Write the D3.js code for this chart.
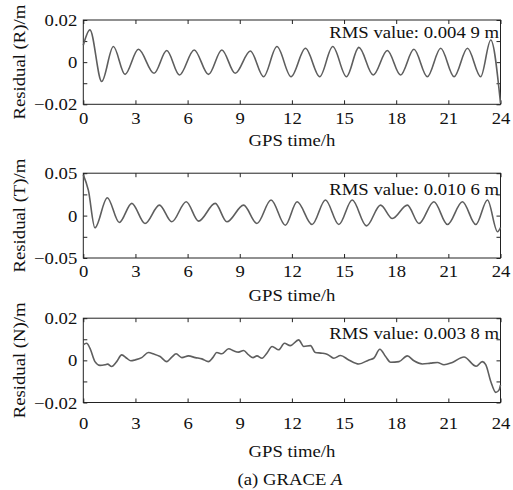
<!DOCTYPE html>
<html>
<head>
<meta charset="utf-8">
<script src="https://cdn.jsdelivr.net/npm/d3@7"></script>
<style>
  body { margin: 0; background: #fff; }
  text { font-family: "Liberation Serif", "Times New Roman", serif; font-size: 17px; fill: #111; }
</style>
</head>
<body>
<svg id="chart" width="513" height="490"></svg>
<script>
// GPS hours on the x axis
var hourTicks = [0, 3, 6, 9, 12, 15, 18, 21, 24];

// radial residual, read at peaks / troughs
var rTime = [0, 0.38, 1.06, 1.73, 2.40, 3.17, 4.07, 4.80, 5.53, 6.38, 7.20, 7.97, 8.74, 9.61, 10.37, 11.14,
             11.95, 12.78, 13.60, 14.35, 15.14, 15.85, 16.68, 17.49, 18.25, 19.02, 19.79, 20.56, 21.33, 22.10, 22.86, 23.44, 24.0];
var rValue = [0.008, 0.0153, -0.0092, 0.0074, -0.0058, 0.0061, -0.0053, 0.0055, -0.0061, 0.0058, -0.0058, 0.0058, -0.0053, 0.0053, -0.0069, 0.0074,
              -0.0069, 0.0066, -0.0069, 0.0074, -0.0069, 0.0070, -0.0061, 0.0055, -0.0061, 0.0061, -0.0069, 0.0066, -0.0069, 0.0066, -0.0069, 0.0105, -0.0195];

// along-track residual
var tTime = [0, 0.29, 0.67, 1.38, 2.07, 2.79, 3.55, 4.38, 5.09, 5.92, 6.63, 7.59, 8.26, 9.22, 9.99, 10.80, 11.62,
             12.30, 13.16, 13.93, 14.70, 15.47, 16.29, 17.10, 17.78, 18.64, 19.31, 20.17, 20.95, 21.81, 22.58, 23.25, 23.83, 24.0];
var tValue = [0.048, 0.030, -0.0144, 0.0211, -0.0081, 0.0144, -0.0093, 0.0124, -0.0073, 0.0164, -0.0065, 0.0144, -0.0073, 0.0124, -0.0093, 0.0184, -0.0113,
              0.0164, -0.0105, 0.0184, -0.0105, 0.0184, -0.0121, 0.0124, -0.0034, 0.0124, -0.0093, 0.0164, -0.0105, 0.0164, -0.0105, 0.0184, -0.019, -0.014];

// normal residual
var nTime = [0, 0.19, 0.38, 0.67, 0.96, 1.25, 1.40, 1.63, 1.92, 2.21, 2.50, 2.73, 2.98, 3.36, 3.75, 4.03, 4.42, 4.80,
             5.09, 5.34, 5.67, 6.05, 6.44, 6.82, 7.20, 7.45, 7.68, 7.97, 8.36, 8.65, 8.93, 9.22, 9.51, 9.76, 9.99, 10.28,
             10.57, 10.86, 11.24, 11.57, 11.91, 12.39, 12.68, 13.07, 13.35, 13.74, 14.05, 14.41, 14.80, 15.27, 15.85,
             16.43, 16.71, 17.06, 17.39, 17.68, 18.16, 18.64, 19.02, 19.50, 19.98, 20.37, 20.75, 21.23, 21.90, 22.60,
             22.95, 23.15, 23.44, 23.73, 23.92, 24.0];
var nValue = [0.0074, 0.0081, 0.0058, -0.0006, -0.0024, -0.0021, -0.0018, -0.0029, -0.0006, 0.0026, 0.0010, -0.0002, 0.0002, 0.0013, 0.0037, 0.0031, 0.0018, -0.0006,
              0.0015, 0.0031, 0.0013, 0.0021, 0.0013, 0.0007, -0.0006, 0.0013, 0.0037, 0.0031, 0.0055, 0.0045, 0.0039, 0.0047, 0.0026, 0.0013, 0.0021, 0.0010,
              0.0035, 0.0066, 0.0050, 0.0081, 0.0070, 0.0097, 0.0066, 0.0070, 0.0037, 0.0034, 0.0028, 0.0010, 0.0023, 0.0002, -0.0017,
              0.0002, 0.0010, 0.0053, 0.0018, -0.0009, -0.0006, 0.0021, -0.0002, -0.0017, -0.0013, -0.0010, -0.0021, -0.0010, 0.0016, -0.0028,
              -0.0006, -0.0020, -0.0100, -0.0152, -0.0140, -0.0116];

var yLimits = [0.02, 0.05, 0.02];
var yLabels = ['Residual (R)/m', 'Residual (T)/m', 'Residual (N)/m'];
var rmsLabels = ['RMS value: 0.004 9 m', 'RMS value: 0.010 6 m', 'RMS value: 0.003 8 m'];

var svg = d3.select('#chart');
var STRETCH = 1.1;   // the serif in the figure runs a bit wider than Liberation
var left = 83.3, right = 500.5;

var panels = [
    { top: 20,    bottom: 104.3, tickPad: 7.5,  xLabelY: 145.5, rmsY: 38.3 },
    { top: 173.2, bottom: 258,   tickPad: 7,    xLabelY: 301,   rmsY: 194.7 },
    { top: 318.2, bottom: 402.5, tickPad: 14,   xLabelY: 457,   rmsY: 339 }
];

var x = d3.scaleLinear().domain([0, 24]).range([left, right]);

function label(sel, px, py, txt, anchor, rotate) {
    return sel.append('text')
        .attr('text-anchor', anchor)
        .attr('transform', 'translate(' + px + ',' + py + ')' + (rotate ? ' rotate(-90)' : '') + ' scale(' + STRETCH + ',1)')
        .text(txt);
}

function drawPanel(idx, time, value) {
    var p = panels[idx];
    var lim = yLimits[idx];
    var y = d3.scaleLinear().domain([-lim, lim]).range([p.bottom, p.top]);
    var yTicks = [-lim, -lim / 2, 0, lim / 2, lim];

    function fmt(d) {
        if (d === 0) return '0';
        if (Math.abs(d) !== lim) return '';
        return (d < 0 ? '\u2212' : '') + lim.toFixed(2);
    }

    var g = svg.append('g').style('color', '#222');

    var bottomAxis = g.append('g').attr('transform', 'translate(0,' + p.bottom + ')')
        .call(d3.axisBottom(x).tickValues(hourTicks).tickSizeInner(-4).tickSizeOuter(0).tickPadding(p.tickPad));
    g.append('g').attr('transform', 'translate(0,' + p.top + ')')
        .call(d3.axisTop(x).tickValues(hourTicks).tickSizeInner(-4).tickSizeOuter(0).tickFormat(''));
    var leftAxis = g.append('g').attr('transform', 'translate(' + left + ',0)')
        .call(d3.axisLeft(y).tickValues(yTicks).tickSizeInner(-4).tickSizeOuter(0).tickPadding(6 / STRETCH).tickFormat(fmt));
    g.append('g').attr('transform', 'translate(' + right + ',0)')
        .call(d3.axisRight(y).tickValues(yTicks).tickSizeInner(-4).tickSizeOuter(0).tickFormat(''));

    g.selectAll('.domain').remove();
    g.selectAll('.tick text').attr('font-family', null).attr('font-size', null)
        .attr('transform', 'scale(' + STRETCH + ',1)');
    bottomAxis.selectAll('.tick text').attr('dy', '0.71em');
    leftAxis.selectAll('.tick text').attr('dy', '0.33em');

    g.append('rect')
        .attr('x', left).attr('y', p.top)
        .attr('width', right - left).attr('height', p.bottom - p.top)
        .attr('fill', 'none').attr('stroke', '#222').attr('stroke-width', 1);

    var line = d3.line()
        .x(function(d) { return x(d[0]); })
        .y(function(d) { return y(d[1]); })
        .curve(d3.curveMonotoneX);

    g.append('path')
        .datum(d3.zip(time, value))
        .attr('d', line)
        .attr('fill', 'none')
        .attr('stroke', '#5e5e5e')
        .attr('stroke-width', 1.6);

    label(g, right - 1.5, p.rmsY, rmsLabels[idx], 'end');
    label(g, (left + right) / 2, p.xLabelY, 'GPS time/h', 'middle');
    label(g, 24.5, (p.top + p.bottom) / 2, yLabels[idx], 'middle', true);
}

drawPanel(0, rTime, rValue);
drawPanel(1, tTime, tValue);
drawPanel(2, nTime, nValue);

// caption
var cap = label(svg, 290, 485, '(a) GRACE ', 'middle');
cap.append('tspan').attr('font-style', 'italic').text('A');
</script>
</body>
</html>
